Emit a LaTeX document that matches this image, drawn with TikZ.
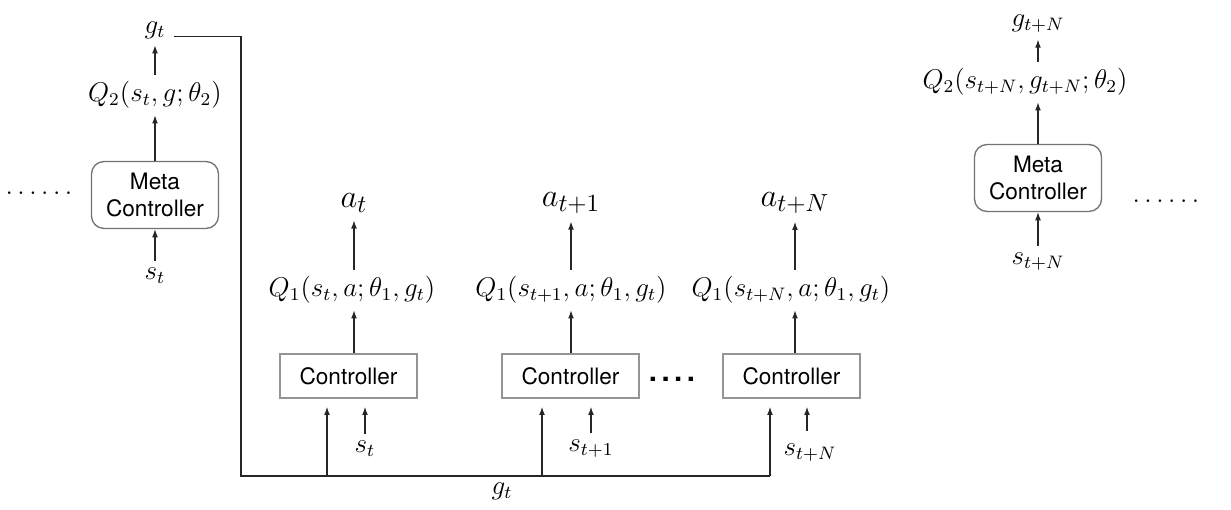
\documentclass[tikz,border=0pt]{standalone}
\usepackage{amsmath,amssymb}
\usepackage{fontspec}
\setsansfont{TeX Gyre Heros}
\usetikzlibrary{arrows.meta}

\tikzset{
  box/.style   = {draw=black!42, line width=0.6pt, minimum width=60.6pt, minimum height=19.5pt,
                  inner sep=0pt, font=\sffamily\fontsize{10}{12}\selectfont},
  metabox/.style = {draw=black!55, line width=0.6pt, rounded corners=5.5pt, minimum width=56.2pt,
                  minimum height=29.6pt, inner sep=0pt, align=center,
                  font=\sffamily\fontsize{10}{12}\selectfont},
  lbl/.style   = {font=\fontsize{12}{14}\selectfont, inner sep=2.8pt},
  act/.style   = {font=\fontsize{15}{18}\selectfont},
  dotrow/.style  = {font=\fontsize{12.7}{14}\selectfont, inner sep=0pt},
  arr/.style   = {-{Latex[length=3.6pt,width=2.6pt]}, line width=0.5pt, black!85},
  wire/.style  = {line width=0.5pt, black!85},
}

\begin{document}
\begin{tikzpicture}[x=0.4425pt, y=-0.4425pt]
    \useasboundingbox (0,0) rectangle (1231,510);
    % meta controller at time t
    \node[metabox] (m1) at (155,195) {Meta\\Controller};
    \node[lbl] (q2a) at (155, 95) {$Q_2(s_t,g;\theta_2)$};
    \node[lbl] (g1)  at (155, 30) {$g_t$};
    \node[lbl] (s0)  at (155,276) {$s_t$};
    \draw [arr] (s0) to (m1);
    \draw [arr] (m1) to (q2a);
    \draw [arr] (q2a) to (g1);
    \node[dotrow] (dl) at (39,193) {$\ldots\ldots$};
    % controllers
    \node[box] (c1) at (348.5,376) {Controller};
    \node[box] (c2) at (570.5,376) {Controller};
    \node[box] (c3) at (791.5,376) {Controller};
    \node[dotrow] (dm) at (672,379) {\sffamily\bfseries\fontsize{13}{14}\selectfont .\kern2pt.\kern2pt.\kern2pt.};
    \node[lbl] (q11) at (352,290) {$Q_1(s_t,a;\theta_1,g_t)$};
    \node[lbl] (q12) at (571,290) {$Q_1(s_{t+1},a;\theta_1,g_t)$};
    \node[lbl] (q13) at (791,290) {$Q_1(s_{t+N},a;\theta_1,g_t)$};
    \node[act] (a1) at (354,203) {$a_t$};
    \node[act] (a2) at (571,203) {$a_{t+1}$};
    \node[act] (a3) at (795,203) {$a_{t+N}$};
    \draw [arr] (c1.north -| a1) to (a1 |- q11.south);
    \draw [arr] (c2.north -| a2) to (a2 |- q12.south);
    \draw [arr] (c3.north -| a3) to (a3 |- q13.south);
    \draw [arr] (q11.north -| a1) to (a1);
    \draw [arr] (q12.north -| a2) to (a2);
    \draw [arr] (q13.north -| a3) to (a3);
    \node[lbl] (s1) at (365,449) {$s_t$};
    \node[lbl] (s2) at (591,449) {$s_{t+1}$};
    \node[lbl] (s3) at (810,453) {$s_{t+N}$};
    \coordinate (e3) at (807,431);
    \draw [arr, shorten >=3.6pt] (s1) to (s1 |- c1.south);
    \draw [arr, shorten >=3.6pt] (s2) to (s2 |- c2.south);
    \draw [arr, shorten >=3.6pt] (e3) to (e3 |- c3.south);
    % goal passed down to the controllers
    \coordinate (bl) at (241,476);
    \coordinate (j1) at (327,476);
    \coordinate (j2) at (542,476);
    \coordinate (j3) at (770,476);
    \draw [wire] ([xshift=1pt,yshift=-1.3pt]g1.base east) -| (bl) -- (j3);
    \draw [arr, shorten >=3.6pt] (j1) to (j1 |- c1.south);
    \draw [arr, shorten >=3.6pt] (j2) to (j2 |- c2.south);
    \draw [arr, shorten >=3.6pt] (j3) to (j3 |- c3.south);
    \node[lbl] (gb) at (502,491) {$g_t$};
    % meta controller at time t+N
    \node[metabox] (m2) at (1038,178) {Meta\\Controller};
    \node[lbl] (q2b) at (1025, 82) {$Q_2(s_{t+N},g_{t+N};\theta_2)$};
    \node[lbl] (g2)  at (1038, 24) {$g_{t+N}$};
    \node[lbl] (sN)  at (1038,262) {$s_{t+N}$};
    \draw [arr] (sN) to (m2);
    \draw [arr] (m2) to (m2 |- q2b.south);
    \draw [arr] (q2b.north -| g2) to (g2);
    \node[dotrow] (dr) at (1166,201) {$\ldots\ldots$};
\end{tikzpicture}
\end{document}
